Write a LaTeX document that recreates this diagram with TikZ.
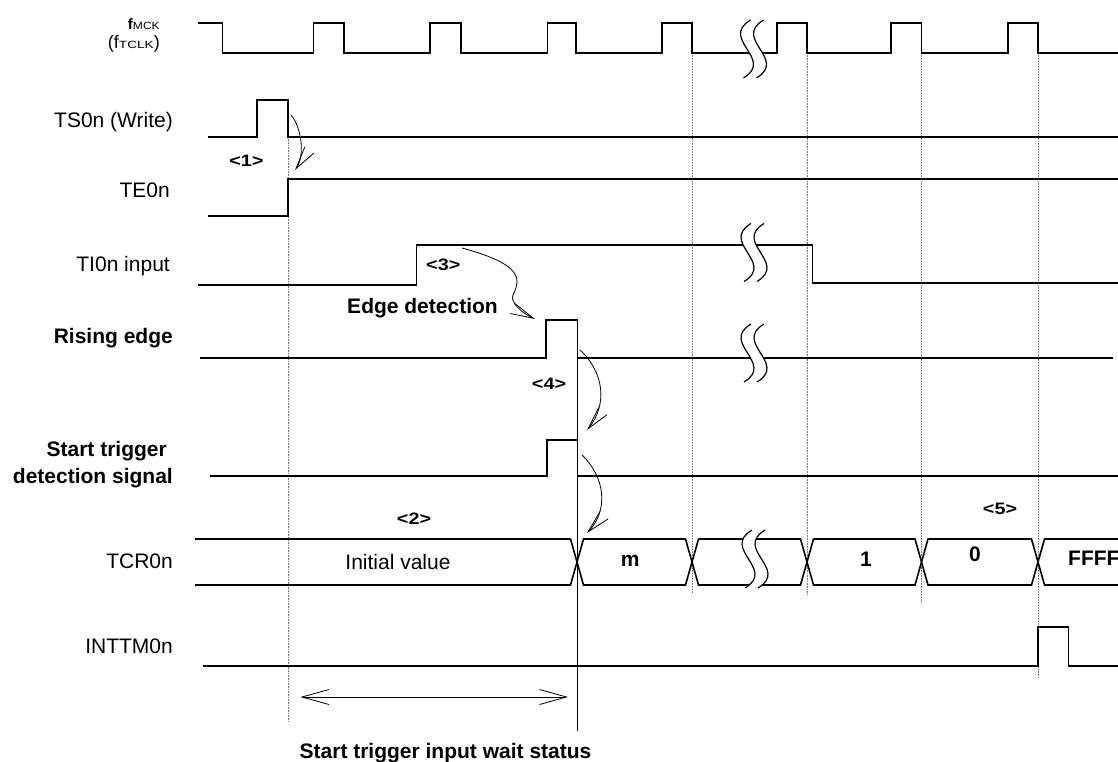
\documentclass[tikz,border=0pt]{standalone}
\usepackage{fontspec}
\setmainfont{Liberation Sans}
\usepackage{graphicx}
\usetikzlibrary{arrows.meta}
\newcommand\brksym[2]{%
  \fill[white] ({#1+3.5},{#2-29}) .. controls ({#1-28},{#2-10}) and ({#1+28},{#2+10}) .. ({#1-3.5},{#2+29})
     -- ({#1+9.5},{#2+29}) .. controls ({#1+41},{#2+10}) and ({#1-15},{#2-10}) .. ({#1+16.5},{#2-29}) -- cycle;
  \draw[line width=1.2pt] ({#1+3.5},{#2-29}) .. controls ({#1-28},{#2-10}) and ({#1+28},{#2+10}) .. ({#1-3.5},{#2+29});
  \draw[line width=1.2pt] ({#1+16.5},{#2-29}) .. controls ({#1-15},{#2-10}) and ({#1+41},{#2+10}) .. ({#1+9.5},{#2+29});
}
\begin{document}
\begin{tikzpicture}[x=1pt,y=-1pt,
  sig/.style={line width=1.6pt, line join=miter},
  thinln/.style={line width=0.8pt},
  dotln/.style={densely dotted, line width=0.6pt, black!55},
  cur/.style={line width=0.8pt, -{Straight Barb[length=23pt,width=11pt]}},
  lbl/.style={inner sep=0pt, font=\fontsize{21}{26}\selectfont},
  blbl/.style={inner sep=0pt, font=\fontsize{21}{26}\selectfont\bfseries},
  num/.style={inner sep=0pt, font=\fontsize{16.5}{19}\selectfont\bfseries}
]
\useasboundingbox (0,0) rectangle (1118,762);

% dotted guide lines
\draw[dotln] (288,137) -- (288,722);
\draw[dotln] (692,53) -- (692,593);
\draw[dotln] (807,53) -- (807,595);
\draw[dotln] (921.5,53) -- (921.5,602);
\draw[dotln] (1038,53) -- (1038,678);

% solid thin vertical at start trigger
\draw[thinln] (577.5,320) -- (577.5,731);

% clock
\draw[sig] (198,23) -- (222.5,23) -- (222.5,53) -- (313.5,53) -- (313.5,23) -- (344,23) -- (344,53)
  -- (430,53) -- (430,23) -- (461,23) -- (461,53) -- (547.5,53) -- (547.5,23) -- (576,23) -- (576,53)
  -- (662,53) -- (662,23) -- (692,23) -- (692,53) -- (777,53) -- (777,23) -- (807,23) -- (807,53)
  -- (891,53) -- (891,23) -- (921.5,23) -- (921.5,53) -- (1008,53) -- (1008,23) -- (1038,23) -- (1038,53) -- (1118,53);

% TS0n
\draw[sig] (208,137) -- (257,137) -- (257,100) -- (288,100) -- (288,137) -- (1118,137);
% TE0n
\draw[sig] (208,216) -- (288,216) -- (288,179) -- (1118,179);
% TI0n
\draw[sig] (198,285) -- (416.5,285) -- (416.5,245) -- (812.5,245) -- (812.5,283) -- (1118,283);
% Rising edge
\draw[sig] (200,358) -- (546,358) -- (546,320) -- (577.5,320) -- (577.5,358) -- (1113,358);
% Start trigger detection
\draw[sig] (210,476) -- (547,476) -- (547,440) -- (577.5,440) -- (577.5,476) -- (1118,476);
% TCR0n bus
\draw[sig] (195,539) -- (570.5,539) -- (583.5,585) -- (685.5,585) -- (698.5,539) -- (800.5,539) -- (813.5,585)
  -- (915,585) -- (928,539) -- (1031.5,539) -- (1044.5,585) -- (1118,585);
\draw[sig] (195,585) -- (570.5,585) -- (583.5,539) -- (685.5,539) -- (698.5,585) -- (800.5,585) -- (813.5,539)
  -- (915,539) -- (928,585) -- (1031.5,585) -- (1044.5,539) -- (1118,539);
% INTTM0n
\draw[sig] (203,666) -- (1038,666) -- (1038,627) -- (1068.5,627) -- (1068.5,666) -- (1118,666);

% breaks
\brksym{747}{49}
\brksym{747.5}{252.5}
\brksym{747.5}{353}
\brksym{748.5}{559}

% curved arrows
\coordinate (a1s) at (291,115); \coordinate (a1e) at (295,170);
\coordinate (a3s) at (462,248); \coordinate (a3m) at (513,295); \coordinate (a3e) at (535,319);
\coordinate (a4s) at (580,350); \coordinate (a4e) at (587,430);
\coordinate (a5s) at (582,455); \coordinate (a5e) at (587,533);
\draw[cur] (a1s) .. controls (302,128) and (305,156) .. (a1e);
\draw[cur] (a3s) .. controls (525,265) and (520,280) .. (a3m) .. controls (510,301.4) and (520,312) .. (a3e);
\draw[cur] (a4s) .. controls (604,372) and (608,405) .. (a4e);
\draw[cur] (a5s) .. controls (605,477) and (609,510) .. (a5e);

% wait-status double arrow
\coordinate (wl) at (300.5,697); \coordinate (wr) at (568,697);
\draw[thinln, {Straight Barb[length=27pt,width=15pt]}-{Straight Barb[length=27pt,width=15pt]}] (wl) -- (wr);

% left labels
\node[anchor=base east, inner sep=0pt] (fmck) at (160,30)
  {{\fontsize{15}{16}\selectfont\bfseries f}{\fontsize{10.5}{11}\selectfont\scalebox{1.15}[1]{MCK}}};
\node[anchor=base east, inner sep=0pt] (ftclk) at (160,49)
  {{\fontsize{18}{19}\selectfont (f}{\fontsize{10.5}{11}\selectfont\scalebox{1.3}[1]{TCLK}}{\fontsize{18}{19}\selectfont )}};
\node[lbl, anchor=base east] (ts) at (173,127.3) {TS0n (Write)};
\node[lbl, anchor=base east] (te) at (170,197.3) {TE0n};
\node[lbl, anchor=base east] (ti) at (170,271.7) {TI0n input};
\node[blbl, anchor=base east] (re) at (173,343.3) {Rising edge};
\node[blbl, anchor=base east] (st1) at (167,456.7) {Start trigger};
\node[blbl, anchor=base east] (st2) at (173,483) {detection signal};
\node[lbl, anchor=base east] (tcr) at (173,568.3) {TCR0n};
\node[lbl, anchor=base east] (int) at (173,653.3) {INTTM0n};

% step numbers
\node[num, anchor=base] (n1) at (246.4,166.7) {\scalebox{1.2}[1]{<1>}};
\node[num, anchor=base] (n2) at (414,524) {\scalebox{1.2}[1]{<2>}};
\node[num, anchor=base] (n3) at (443.3,270.7) {\scalebox{1.2}[1]{<3>}};
\node[num, anchor=base] (n4) at (549,389) {\scalebox{1.2}[1]{<4>}};
\node[num, anchor=base] (n5) at (1000,514) {\scalebox{1.2}[1]{<5>}};

% other texts
\node[blbl, anchor=base] (edge) at (422.5,313.3) {Edge detection};
\node[lbl, anchor=base] (init) at (398,569.3) {Initial value};
\node[blbl, anchor=base] (vm) at (630.3,566) {m};
\node[blbl, anchor=base] (v1) at (866,566) {1};
\node[blbl, anchor=base] (v0) at (975,561.7) {0};
\node[blbl, anchor=base west] (vf) at (1068,565) {FFFF};
\node[blbl, anchor=base] (wait) at (445.5,758.3) {Start trigger input wait status};
\end{tikzpicture}
\end{document}
